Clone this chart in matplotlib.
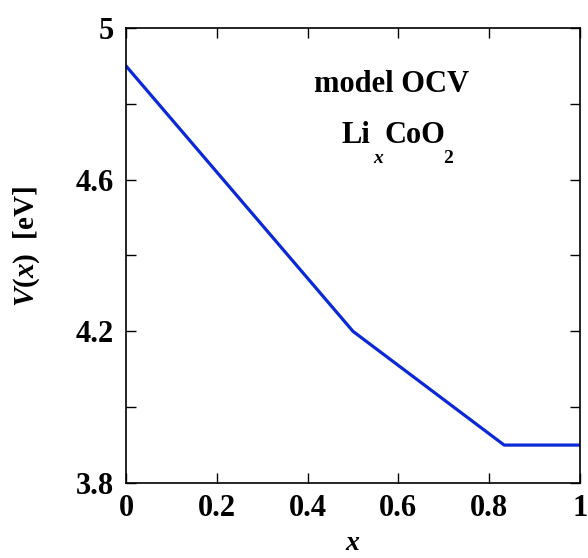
import numpy as np
import matplotlib
matplotlib.use('Agg')
import matplotlib.pyplot as plt

plt.rcParams['font.family'] = 'Liberation Serif'
plt.rcParams['font.weight'] = 'bold'
plt.rcParams['axes.labelweight'] = 'bold'
plt.rcParams['mathtext.fontset'] = 'custom'
plt.rcParams['mathtext.rm'] = 'Liberation Serif:bold'
plt.rcParams['mathtext.it'] = 'Liberation Serif:italic:bold'
plt.rcParams['mathtext.bf'] = 'Liberation Serif:bold'

# piecewise linear model OCV of LixCoO2
x_vals = [0.0, 0.5, 0.833, 1.0]
v_vals = [4.9, 4.2, 3.9, 3.9]

x_ticks = [0, 0.2, 0.4, 0.6, 0.8, 1]
x_tick_labels = ['0', '0.2', '0.4', '0.6', '0.8', '1']
y_ticks = [3.8, 4.0, 4.2, 4.4, 4.6, 4.8, 5.0]
y_tick_labels = ['3.8', '', '4.2', '', '4.6', '', '5']

fig = plt.figure(figsize=(5.88, 5.58), dpi=100)
ax = fig.add_axes([126/588, 1-483/558, (580-126)/588, (483-28)/558])
ax.plot(x_vals, v_vals, color='#0a28d8', lw=2.3)
ax.set_xlim(0, 1)
ax.set_ylim(3.8, 5.0)
ax.set_xticks(x_ticks)
ax.set_xticklabels(x_tick_labels)
ax.set_yticks(y_ticks)
ax.set_yticklabels(y_tick_labels)
ax.tick_params(direction='in', length=7, width=1, top=True, right=True,
               labelsize=22)
ax.tick_params(axis='x', pad=8)
ax.tick_params(axis='y', pad=9)
for s in ax.spines.values():
    s.set_linewidth(1.2)

ax.set_xlabel(r'$x$', fontsize=20)
ax.xaxis.set_label_coords(0.5, -0.105)
ax.set_ylabel(r'$V$($x$)  [eV]', fontsize=21)
ax.yaxis.set_label_coords(-0.185, 0.52)

fig.text(392/588, 1-92/558, 'model OCV', ha='center', va='baseline',
         fontsize=22)
# Li_x CoO_2 with large, low subscripts
fig.text(342/588, 1-143/558, 'Li', ha='left', va='baseline', fontsize=22)
fig.text(373/588, 1-163/558, r'$x$', ha='left', va='baseline', fontsize=14)
fig.text(385/588, 1-143/558, 'CoO', ha='left', va='baseline', fontsize=22)
fig.text(443/588, 1-163/558, '2', ha='left', va='baseline', fontsize=14)

fig.savefig('out.png', dpi=100)
